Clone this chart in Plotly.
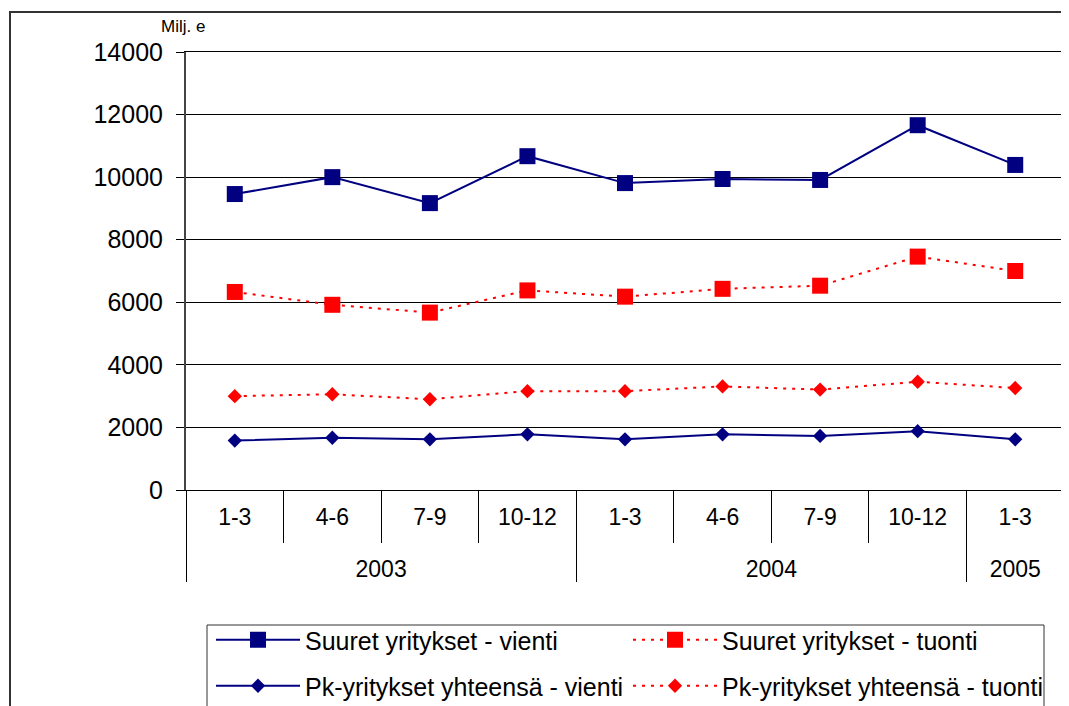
import plotly.graph_objects as go

years = ["2003", "2003", "2003", "2003", "2004", "2004", "2004", "2004", "2005"]
quarters = ["1-3", "4-6", "7-9", "10-12", "1-3", "4-6", "7-9", "10-12", "1-3"]

suuret_vienti = [9460, 10000, 9170, 10670, 9810, 9940, 9910, 11660, 10390]
suuret_tuonti = [6330, 5920, 5670, 6380, 6180, 6430, 6530, 7460, 7000]
pk_vienti = [1580, 1670, 1620, 1780, 1620, 1780, 1730, 1880, 1620]
pk_tuonti = [3000, 3060, 2900, 3160, 3160, 3310, 3210, 3460, 3260]

NAVY = "#000080"
RED = "#FF0000"
FONT = "Arial, Liberation Sans, sans-serif"

OFF = 8  # page body margin
W, H = 1069 - OFF, 706 - OFF
# target screen coordinates of plot area: x 186..1064, y 52..490
L = 186 - OFF
T = 52 - OFF
R = W - (1064 - OFF)
B = H - (490 - OFF)
PW = W - L - R
PH = H - T - B


def px_x(sx):
    return (sx - OFF - L) / PW


def px_y(sy):
    return (H - B - (sy - OFF)) / PH


# year labels sit one line lower than the quarter labels (as in the original)
year_labels = ["<br>" + y for y in years]
x = [year_labels, quarters]

fig = go.Figure()
fig.add_trace(go.Scatter(x=x, y=suuret_vienti, name="Suuret yritykset - vienti",
                         mode="lines+markers", line=dict(color=NAVY, width=2),
                         marker=dict(symbol="square", size=16, color=NAVY),
                         legend="legend"))
fig.add_trace(go.Scatter(x=x, y=suuret_tuonti, name="Suuret yritykset - tuonti",
                         mode="lines+markers", line=dict(color=RED, width=2, dash="3px,6px"),
                         marker=dict(symbol="square", size=16, color=RED),
                         legend="legend"))
fig.add_trace(go.Scatter(x=x, y=pk_vienti, name="Pk-yritykset yhteensä - vienti",
                         mode="lines+markers", line=dict(color=NAVY, width=2),
                         marker=dict(symbol="diamond", size=11, color=NAVY),
                         legend="legend2"))
fig.add_trace(go.Scatter(x=x, y=pk_tuonti, name="Pk-yritykset yhteensä - tuonti",
                         mode="lines+markers", line=dict(color=RED, width=2, dash="3px,6px"),
                         marker=dict(symbol="diamond", size=11, color=RED),
                         legend="legend2"))

legend_common = dict(orientation="h", xanchor="left", yanchor="middle",
                     x=px_x(211), bgcolor="rgba(0,0,0,0)", borderwidth=0,
                     font=dict(family=FONT, size=25, color="black"),
                     itemwidth=84, entrywidth=318, entrywidthmode="pixels",
                     traceorder="normal")

fig.update_layout(
    width=W, height=H,
    margin=dict(l=L, r=R, t=T, b=B, autoexpand=False),
    paper_bgcolor="white", plot_bgcolor="white",
    font=dict(family=FONT, color="black"),
    showlegend=True,
    legend=dict(y=px_y(640), **legend_common),
    legend2=dict(y=px_y(686), **legend_common),
    xaxis=dict(type="multicategory", showgrid=False, showline=True, linecolor="black",
               linewidth=1, mirror=True, ticks="outside", ticklen=52, tickcolor="black",
               tickwidth=1, ticklabelstandoff=6,
               tickfont=dict(family=FONT, size=23, color="black"),
               showdividers=True, dividercolor="black", dividerwidth=1,
               range=[-0.5, 8.5], zeroline=False),
    yaxis=dict(range=[0, 14000], dtick=2000, tick0=0, showgrid=True, gridcolor="black",
               gridwidth=1, showline=True, linecolor="#444", linewidth=2, mirror=True,
               ticks="outside", ticklen=8, tickcolor="black", tickwidth=1,
               tickfont=dict(family=FONT, size=25, color="black"), ticklabelstandoff=8,
               zeroline=False, tickformat="d"),
    shapes=[
        dict(type="rect", xref="paper", yref="paper", x0=px_x(10), x1=px_x(1100),
             y0=px_y(760), y1=px_y(12), line=dict(color="#333", width=2), layer="below"),
        dict(type="rect", xref="paper", yref="paper", x0=px_x(207), x1=px_x(1044),
             y0=px_y(740), y1=px_y(625), line=dict(color="#333", width=1), layer="below"),
    ],
    annotations=[
        dict(text="Milj. e", xref="paper", yref="paper", x=px_x(183), y=px_y(27),
             xanchor="center", yanchor="middle", showarrow=False,
             font=dict(family=FONT, size=17, color="black")),
    ],
)

fig.write_html("out.html")
